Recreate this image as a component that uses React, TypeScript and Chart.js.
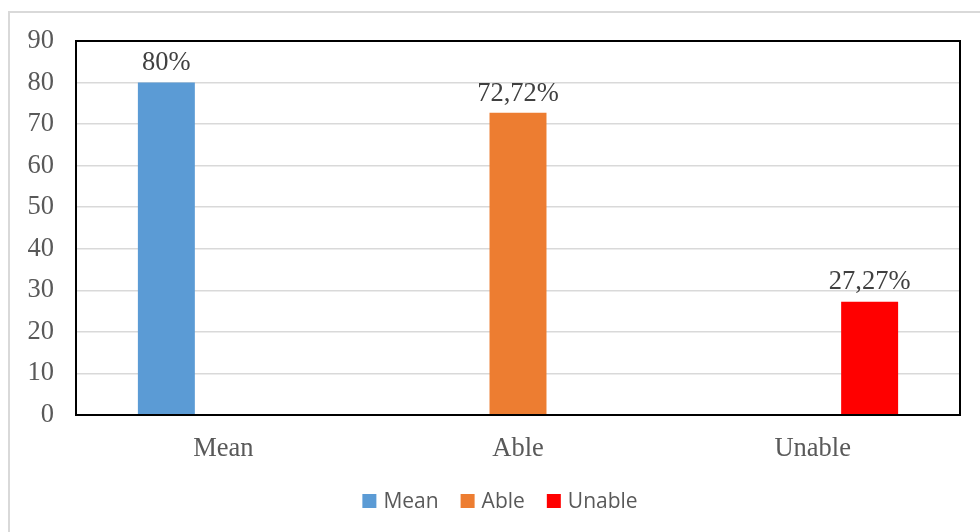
import React, { useEffect, useRef } from "react";
import { Chart, registerables } from "chart.js";

Chart.register(...registerables);

const categories = ["Mean", "Able", "Unable"];
const seriesNames = ["Mean", "Able", "Unable"];
const meanValues = [80, null, null];
const ableValues = [null, 72.72, null];
const unableValues = [null, null, 27.27];
const valueLabels = ["80%", "72,72%", "27,27%"];
const seriesColors = ["#5B9BD5", "#ED7D31", "#FF0000"];
const yTicks = [0, 10, 20, 30, 40, 50, 60, 70, 80, 90];

const serif = "'Liberation Serif', 'Times New Roman', serif";
const sans = "'Open Sans', 'Liberation Sans', sans-serif";
const serifSize = 26.5;

const decorPlugin = {
  id: "decor",
  beforeDraw(chart: any) {
    const ctx = chart.ctx;
    ctx.save();
    ctx.fillStyle = "#ffffff";
    ctx.fillRect(0, 0, chart.width, chart.height);
    ctx.strokeStyle = "#D9D9D9";
    ctx.lineWidth = 2;
    ctx.strokeRect(9, 12, chart.width + 20, chart.height + 20);
    ctx.restore();
  },
  afterDatasetsDraw(chart: any) {
    const ctx = chart.ctx;
    const a = chart.chartArea;
    ctx.save();
    ctx.strokeStyle = "#000000";
    ctx.lineWidth = 2;
    ctx.strokeRect(a.left, a.top, a.right - a.left, a.bottom - a.top);
    // data labels
    ctx.fillStyle = "#404040";
    ctx.font = `${serifSize}px ${serif}`;
    ctx.textAlign = "center";
    ctx.textBaseline = "bottom";
    chart.data.datasets.forEach((ds: any, di: number) => {
      const meta = chart.getDatasetMeta(di);
      meta.data.forEach((bar: any, i: number) => {
        if (ds.data[i] == null) return;
        ctx.fillText(valueLabels[di], bar.x, bar.y - 6);
      });
    });
    // legend
    ctx.font = `21px ${sans}`;
    ctx.textBaseline = "middle";
    ctx.textAlign = "left";
    const box = 14;
    const gapText = 7;
    const gapItem = 22;
    const widths = seriesNames.map((n) => box + gapText + ctx.measureText(n).width);
    const total = widths.reduce((s, w) => s + w, 0) + gapItem * (widths.length - 1);
    let x = 500 - total / 2;
    const cy = 501;
    seriesNames.forEach((n, i) => {
      ctx.fillStyle = seriesColors[i];
      ctx.fillRect(x, cy - box / 2, box, box);
      ctx.fillStyle = "#595959";
      ctx.fillText(n, x + box + gapText, cy + 1);
      x += widths[i] + gapItem;
    });
    ctx.restore();
  },
};

export default function App() {
  const ref = useRef<HTMLCanvasElement>(null);
  useEffect(() => {
    if (!ref.current) return;
    const valueSets = [meanValues, ableValues, unableValues];
    const chart = new Chart(ref.current, {
      type: "bar",
      data: {
        labels: categories,
        datasets: seriesNames.map((name, i) => ({
          label: name,
          data: valueSets[i] as any,
          backgroundColor: seriesColors[i],
          borderWidth: 0,
          barPercentage: 1,
          categoryPercentage: 0.58,
        })),
      },
      options: {
        responsive: false,
        animation: false,
        devicePixelRatio: 1,
        layout: { padding: { left: 0, top: 41, right: 20, bottom: 0 } },
        plugins: {
          legend: { display: false },
          tooltip: { enabled: false },
          title: { display: false },
        },
        scales: {
          x: {
            grid: { display: false, drawTicks: false },
            border: { display: false },
            ticks: {
              color: "#595959",
              font: { family: serif, size: serifSize },
              padding: 18,
              maxRotation: 0,
            },
            afterFit(scale: any) {
              scale.height = 117;
            },
          },
          y: {
            min: 0,
            max: 90,
            afterBuildTicks(scale: any) {
              scale.ticks = yTicks.map((v) => ({ value: v }));
            },
            grid: { color: "#D9D9D9", lineWidth: 1.5, drawTicks: false },
            border: { display: false },
            ticks: {
              color: "#595959",
              font: { family: serif, size: serifSize },
              padding: 22,
            },
            afterFit(scale: any) {
              scale.width = 76;
            },
          },
        },
      },
      plugins: [decorPlugin],
    });
    return () => chart.destroy();
  }, []);
  return (
    <div style={{ position: "absolute", left: 0, top: 0, width: 980, height: 532 }}>
      <canvas ref={ref} width={980} height={532} style={{ display: "block" }} />
    </div>
  );
}
